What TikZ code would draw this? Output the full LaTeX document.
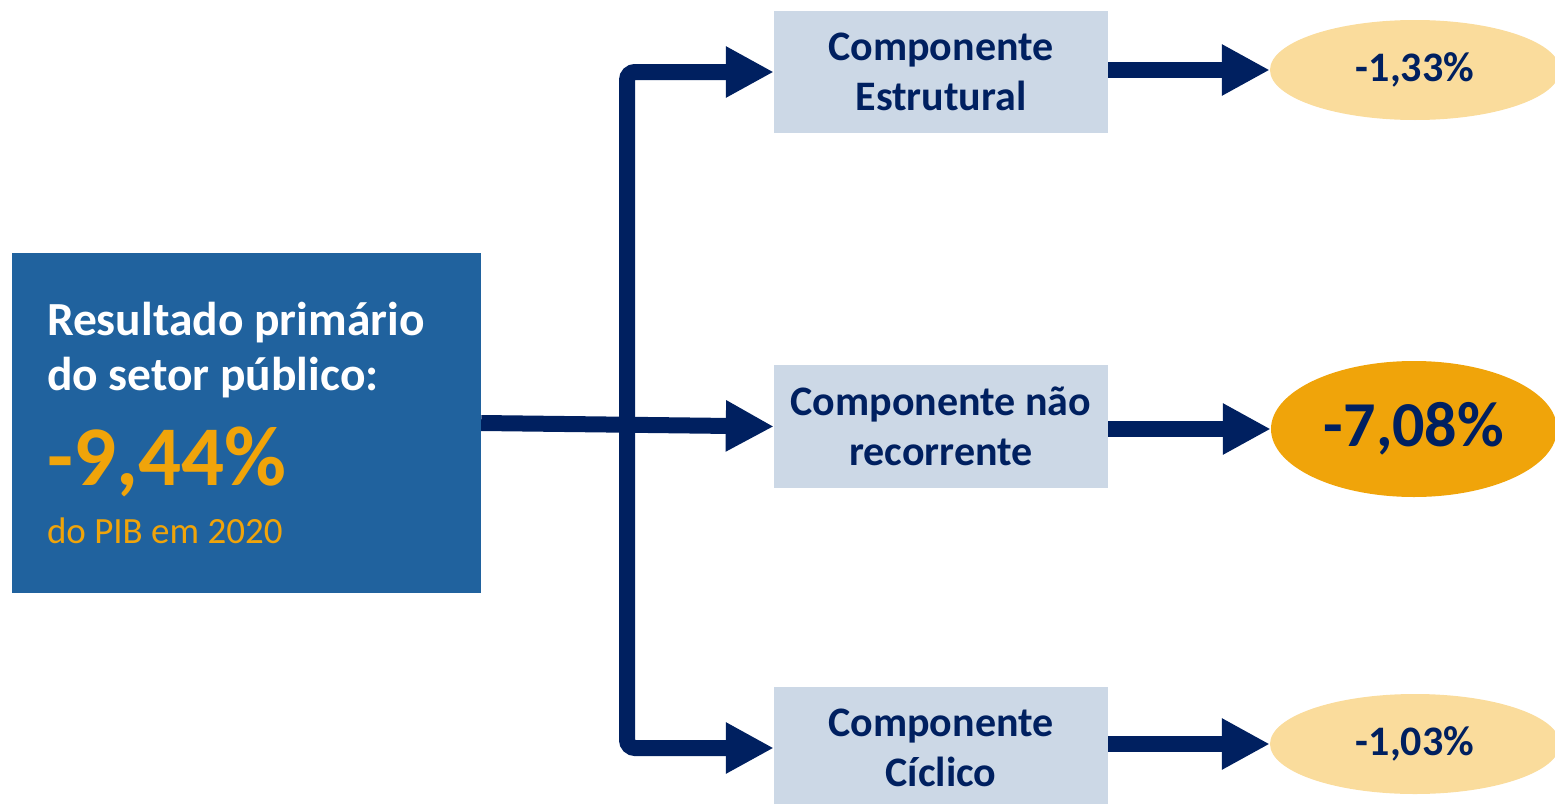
\documentclass[tikz,border=0pt]{standalone}
\usepackage{fontspec}
\setmainfont{Carlito}
\usetikzlibrary{arrows.meta,shapes.geometric}
\definecolor{navy}{RGB}{0,32,96}
\definecolor{mainblue}{RGB}{32,98,158}
\definecolor{gold}{RGB}{240,164,10}
\definecolor{lightgold}{RGB}{250,220,156}
\definecolor{boxblue}{RGB}{204,216,230}
\tikzset{
  comp/.style={rectangle, fill=boxblue, text=navy, align=center, inner sep=0pt,
    minimum width=334pt, minimum height=122pt, font=\fontsize{42}{50}\selectfont\bfseries},
  val/.style={ellipse, fill=lightgold, text=navy, inner sep=0pt,
    minimum width=290pt, minimum height=100pt, font=\fontsize{42}{50}\selectfont\bfseries},
  link/.style={draw=navy, line width=16pt, -{Triangle[length=48pt,width=48pt]}},
}
\begin{document}
\begin{tikzpicture}[x=1pt,y=-1pt]
    \clip (0,0) rectangle (1555,803);
    \node[rectangle, fill=mainblue, text=white, minimum width=469pt, minimum height=340pt,
      text width=399pt, inner sep=0pt, align=left] (main) at (246.5,423) {%
      \spaceskip=0pt\xspaceskip=0pt
      {\fontsize{47.5}{55}\selectfont\bfseries Resultado primário\\do setor público:\par}%
      {\fontsize{85}{95}\selectfont\bfseries\color{gold}-9,44\%\par}%
      {\fontsize{37}{58}\selectfont\color{gold}do PIB em 2020\par}};
    \node[comp] (est) at (941,72) {Componente\\Estrutural};
    \node[comp, minimum height=123pt] (nrec) at (941,426.5) {Componente não\\recorrente};
    \node[comp] (cic) at (941,748) {Componente\\Cíclico};
    \node[val] (vest) at (1415,70) {-1,33\%};
    \node[val, fill=gold, minimum width=286pt, minimum height=136pt,
      font=\fontsize{64}{70}\selectfont\bfseries] (vnrec) at (1414,429) {-7,08\%};
    \node[val] (vcic) at (1415,744) {-1,03\%};
    \coordinate (trunk) at (627,0);
    \draw[link] (main.east) -- (nrec.west);
    \draw[link, {Triangle[length=48pt,width=48pt]}-{Triangle[length=48pt,width=48pt]}, rounded corners=8pt]
      (est.west) -- (trunk |- est.west) -- (trunk |- cic.west) -- (cic.west);
    \draw[link] (est.east |- vest.west) -- (vest.west);
    \draw[link] (nrec.east |- vnrec.west) -- (vnrec.west);
    \draw[link] (cic.east |- vcic.west) -- (vcic.west);
\end{tikzpicture}
\end{document}
